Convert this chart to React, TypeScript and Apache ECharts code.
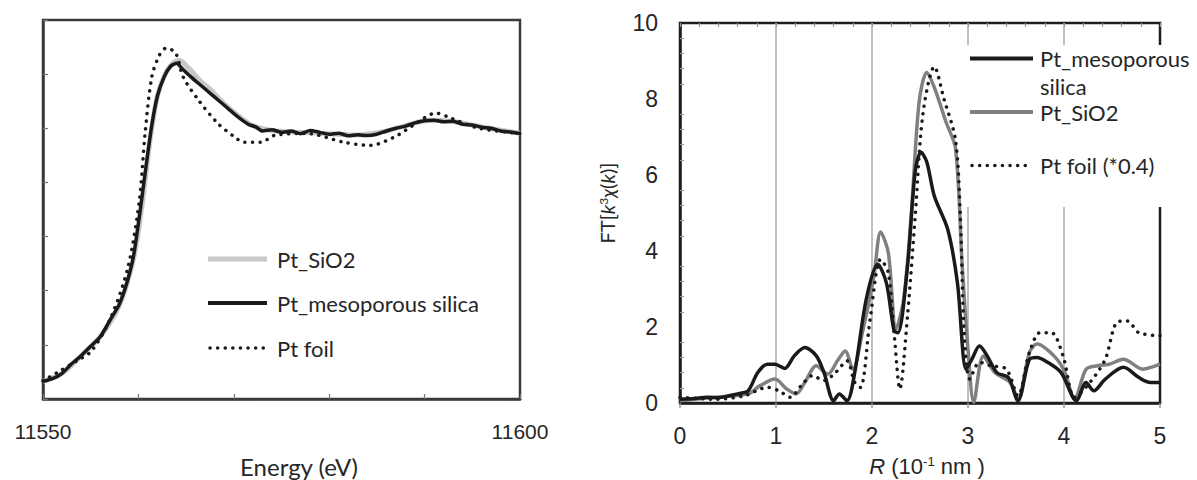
import React, { useEffect, useRef } from "react";
import * as echarts from "echarts";

// ---------- Left panel: XANES (Energy, eV vs normalized absorption) ----------
const xanesLabels = [11550, 11600];

const xanesMeso: [number, number][] = [
  [11550, 0.065], [11551, 0.075], [11552, 0.095], [11553, 0.13], [11554, 0.16],
  [11555, 0.195], [11556, 0.23], [11557, 0.29], [11558, 0.35], [11558.8, 0.43],
  [11559.5, 0.53], [11560.2, 0.7], [11560.8, 0.86], [11561.4, 1.01], [11562.0, 1.12],
  [11562.7, 1.19], [11563.4, 1.23], [11564.0, 1.24], [11564.6, 1.22], [11565.5, 1.19],
  [11566.5, 1.16], [11567.5, 1.13], [11568.5, 1.1], [11569.5, 1.07], [11570.5, 1.04],
  [11571.5, 1.015], [11572.3, 1.005], [11573, 0.99], [11574, 0.995], [11575, 0.985],
  [11576, 0.99], [11577, 0.98], [11578, 0.992], [11579, 0.985], [11580, 0.978],
  [11581, 0.982], [11582, 0.972], [11583, 0.976], [11584, 0.973], [11585, 0.978],
  [11586, 0.99], [11587, 1.0], [11588, 1.008], [11589, 1.02], [11590, 1.028],
  [11591, 1.03], [11592, 1.024], [11593, 1.026], [11594, 1.015], [11595, 1.012],
  [11596, 1.004], [11597, 1.0], [11598, 0.99], [11599, 0.986], [11600, 0.981],
];

const xanesSiO2: [number, number][] = [
  [11550, 0.065], [11552, 0.095], [11554, 0.16], [11556, 0.23], [11558, 0.345],
  [11559.5, 0.52], [11560.4, 0.72], [11561.2, 0.95], [11562.0, 1.12], [11562.8, 1.2],
  [11563.6, 1.24], [11564.3, 1.25], [11565.2, 1.225], [11566.5, 1.175], [11567.5, 1.145],
  [11569, 1.09], [11570.5, 1.045], [11572, 1.01], [11574, 0.992], [11577, 0.985],
  [11580, 0.98], [11583, 0.975], [11586, 0.99], [11588, 1.01], [11590.5, 1.03],
  [11593, 1.025], [11596, 1.005], [11600, 0.982],
];

const xanesFoil: [number, number][] = [
  [11550, 0.067], [11551.8, 0.104], [11553.5, 0.14], [11555.1, 0.178], [11557.1, 0.3],
  [11558.9, 0.485], [11560.1, 0.733], [11560.7, 0.981], [11561.4, 1.189], [11562.2, 1.27],
  [11562.9, 1.296], [11563.9, 1.278], [11564.7, 1.189], [11566.3, 1.104], [11568.3, 1.019],
  [11570, 0.97], [11571.1, 0.948], [11572.8, 0.948], [11574.3, 0.974], [11577.6, 0.981],
  [11581.6, 0.948], [11584.3, 0.937], [11586.8, 0.967], [11588.8, 1.011], [11591.2, 1.056],
  [11592.8, 1.037], [11595.7, 1.0], [11600, 0.981],
];

// ---------- Right panel: Fourier transform (R vs FT magnitude) ----------
const ftMeso: [number, number][] = [
  [0, 0.1], [0.15, 0.12], [0.28, 0.15], [0.4, 0.14], [0.51, 0.19], [0.62, 0.25],
  [0.71, 0.32], [0.81, 0.8], [0.91, 1.02], [0.99, 1.02], [1.09, 0.91], [1.19, 1.24],
  [1.3, 1.46], [1.42, 1.24], [1.5, 0.8], [1.6, 0.06], [1.66, 0.24], [1.74, 0.06],
  [1.82, 0.8], [1.94, 2.73], [2.06, 3.65], [2.15, 3.16], [2.23, 1.9], [2.27, 1.85],
  [2.37, 3.6], [2.45, 6.1], [2.51, 6.6], [2.57, 6.35], [2.65, 5.44], [2.79, 4.56],
  [2.89, 3.16], [2.98, 0.89], [3.04, 1.15], [3.12, 1.5], [3.2, 1.24], [3.3, 0.8],
  [3.42, 0.67], [3.52, 0.06], [3.64, 1.15], [3.72, 1.2], [3.83, 1.07], [3.97, 0.8],
  [4.13, 0.06], [4.23, 0.54], [4.31, 0.32], [4.43, 0.63], [4.62, 0.94], [4.78, 0.67],
  [4.9, 0.54], [5.0, 0.54],
];

const ftSiO2: [number, number][] = [
  [0, 0.06], [0.36, 0.15], [0.71, 0.24], [0.83, 0.45], [0.99, 0.63], [1.11, 0.37],
  [1.21, 0.24], [1.3, 0.54], [1.42, 0.98], [1.54, 0.76], [1.64, 1.11], [1.72, 1.37],
  [1.8, 0.89], [1.9, 1.85], [2.02, 3.34], [2.09, 4.5], [2.17, 3.95], [2.25, 1.94],
  [2.33, 2.73], [2.41, 5.0], [2.49, 7.9], [2.57, 8.7], [2.65, 8.3], [2.77, 7.4],
  [2.87, 6.7], [2.94, 3.6], [3.0, 1.42], [3.06, 0.02], [3.16, 1.24], [3.28, 0.8],
  [3.44, 0.54], [3.52, 0.1], [3.64, 1.33], [3.72, 1.55], [3.91, 1.2], [4.01, 0.8],
  [4.11, 0.1], [4.23, 0.89], [4.35, 0.98], [4.47, 1.02], [4.62, 1.15], [4.82, 0.89],
  [5.0, 1.02],
];

const ftFoil: [number, number][] = [
  [0, 0.15], [0.36, 0.1], [0.67, 0.19], [0.91, 0.41], [1.03, 0.32], [1.15, 0.15],
  [1.26, 0.45], [1.38, 0.72], [1.5, 0.59], [1.62, 0.8], [1.74, 1.11], [1.82, 0.54],
  [1.88, 0.41], [1.98, 2.2], [2.09, 3.78], [2.17, 3.43], [2.23, 1.85], [2.29, 0.37],
  [2.37, 2.29], [2.45, 4.91], [2.53, 7.6], [2.65, 8.85], [2.75, 8.0], [2.87, 6.92],
  [2.92, 4.91], [2.96, 1.85], [3.02, 0.63], [3.12, 1.07], [3.24, 0.98], [3.4, 0.89],
  [3.52, 0.19], [3.64, 1.33], [3.75, 1.85], [3.87, 1.85], [3.99, 1.24], [4.11, 0.15],
  [4.27, 0.54], [4.43, 1.15], [4.55, 2.12], [4.66, 2.16], [4.78, 1.85], [5.0, 1.77],
];

const leftLegend = ["Pt_SiO2", "Pt_mesoporous silica", "Pt foil"];
const rightLegend = ["Pt_mesoporous\nsilica", "Pt_SiO2", "Pt foil (*0.4)"];

const TEXT = "#262626";
const NUM_FONT = "Liberation Sans";
const WORD_FONT = "Lato";
const DOT = [0.1, 7.5];
const GRID_GRAY = "#ababab";

export default function App() {
  const ref = useRef<HTMLDivElement>(null);

  useEffect(() => {
    document.body.style.margin = "0";
    const chart = echarts.init(ref.current!, null, { renderer: "svg" });

    const lineItem = (x1: number, x2: number, y: number, stroke: string, width: number, dotted: boolean) => ({
      type: "line",
      z: 120,
      shape: { x1, y1: y, x2, y2: y },
      style: dotted
        ? { stroke, lineWidth: width, lineDash: DOT, lineCap: "round" }
        : { stroke, lineWidth: width },
    });
    const textItem = (x: number, y: number, text: string, va = "middle") => ({
      type: "text",
      z: 120,
      x,
      y,
      style: {
        text,
        fill: TEXT,
        fontSize: 22,
        fontFamily: WORD_FONT,
        verticalAlign: va,
        lineHeight: 28,
      },
    });

    const option: any = {
      animation: false,
      backgroundColor: "#ffffff",
      grid: [
        { left: 43, top: 20, width: 477, height: 379, show: true, borderColor: "#3a3a3a", borderWidth: 2.5, backgroundColor: "transparent" },
        { left: 680, top: 23, width: 480, height: 380, show: true, borderColor: "#1e1e1e", borderWidth: 2.5, backgroundColor: "transparent" },
      ],
      xAxis: [
        {
          gridIndex: 0, type: "value", min: 11550, max: 11600, interval: 10,
          axisLine: { lineStyle: { color: "#3a3a3a", width: 2.5 } },
          axisTick: { inside: true, length: 5, lineStyle: { color: "#777", width: 1.2 } },
          axisLabel: {
            margin: 22, fontSize: 21, color: TEXT, fontFamily: NUM_FONT,
            formatter: (v: number) => (xanesLabels.includes(v) ? String(v) : ""),
          },
          splitLine: { show: false },
        },
        {
          gridIndex: 1, type: "value", min: 0, max: 5, interval: 1,
          axisLine: { lineStyle: { color: "#1e1e1e", width: 2.5 } },
          axisTick: { inside: false, length: 5, lineStyle: { color: "#999", width: 1.5 } },
          axisLabel: { margin: 21, fontSize: 23, color: TEXT, fontFamily: NUM_FONT },
          splitLine: {
            show: true,
            lineStyle: { color: ["transparent", GRID_GRAY, GRID_GRAY, GRID_GRAY, GRID_GRAY, "transparent"], width: 1.5 },
          },
        },
        {
          gridIndex: 1, type: "value", min: 0, max: 5, interval: 0.2,
          axisLine: { show: false },
          axisTick: { inside: true, length: 4, lineStyle: { color: "#999", width: 1.2 } },
          axisLabel: { show: false },
          splitLine: { show: false },
        },
      ],
      yAxis: [
        {
          gridIndex: 0, type: "value", min: 0, max: 1.4, interval: 0.2,
          axisLine: { lineStyle: { color: "#3a3a3a", width: 2.5 } },
          axisTick: { inside: true, length: 5, lineStyle: { color: "#777", width: 1.2 } },
          axisLabel: { show: false },
          splitLine: { show: false },
        },
        {
          gridIndex: 1, type: "value", min: 0, max: 10, interval: 2,
          axisLine: { lineStyle: { color: "#1e1e1e", width: 2.5 } },
          axisTick: { show: false, inside: true },
          minorTick: { show: true, splitNumber: 5, length: 4, lineStyle: { color: "#999", width: 1.2 } },
          axisLabel: { margin: 22, fontSize: 23, color: TEXT, fontFamily: NUM_FONT },
          splitLine: { show: false },
        },
      ],
      series: [
        {
          name: "Pt_SiO2", type: "line", xAxisIndex: 0, yAxisIndex: 0, data: xanesSiO2,
          showSymbol: false, smooth: 0.3, z: 2,
          lineStyle: { color: "#c8c8c8", width: 5 },
        },
        {
          name: "Pt foil", type: "line", xAxisIndex: 0, yAxisIndex: 0, data: xanesFoil,
          showSymbol: false, smooth: 0.3, z: 3,
          lineStyle: { color: "#1a1a1a", width: 3.5, type: DOT, cap: "round" },
        },
        {
          name: "Pt_mesoporous silica", type: "line", xAxisIndex: 0, yAxisIndex: 0, data: xanesMeso,
          showSymbol: false, smooth: 0.2, z: 4,
          lineStyle: { color: "#1a1a1a", width: 3.5 },
        },
        {
          name: "Pt_mesoporous silica (FT)", type: "line", xAxisIndex: 1, yAxisIndex: 1, data: ftMeso,
          showSymbol: false, smooth: 0.3, z: 4,
          lineStyle: { color: "#1a1a1a", width: 3.5 },
        },
        {
          name: "Pt_SiO2 (FT)", type: "line", xAxisIndex: 1, yAxisIndex: 1, data: ftSiO2,
          showSymbol: false, smooth: 0.3, z: 3,
          lineStyle: { color: "#808080", width: 3.5 },
        },
        {
          name: "Pt foil (*0.4)", type: "line", xAxisIndex: 1, yAxisIndex: 1, data: ftFoil,
          showSymbol: false, smooth: 0.3, z: 5,
          lineStyle: { color: "#1a1a1a", width: 3.5, type: DOT, cap: "round" },
        },
      ],
      graphic: [
        // left legend
        lineItem(208, 267, 259, "#c8c8c8", 5, false),
        lineItem(208, 267, 303, "#1a1a1a", 4, false),
        lineItem(210, 265, 348, "#1a1a1a", 3.5, true),
        textItem(277, 259, leftLegend[0]),
        textItem(277, 303, leftLegend[1]),
        textItem(277, 348, leftLegend[2]),
        // right legend background
        { type: "rect", z: 110, shape: { x: 962, y: 45, width: 235, height: 162 }, style: { fill: "#ffffff" } },
        lineItem(970, 1033, 58.5, "#1a1a1a", 4, false),
        lineItem(970, 1033, 112, "#808080", 4, false),
        lineItem(972, 1031, 165.5, "#1a1a1a", 3.5, true),
        textItem(1040, 44.5, rightLegend[0], "top"),
        textItem(1040, 112, rightLegend[1]),
        textItem(1040, 165.5, rightLegend[2]),
        // axis titles
        {
          type: "text", z: 120, x: 299, y: 466,
          style: { text: "Energy (eV)", fill: TEXT, fontSize: 24, fontFamily: WORD_FONT, align: "center", verticalAlign: "middle" },
        },
        {
          type: "text", z: 120, x: 927, y: 466,
          style: {
            text: "{i|R} (10{sup|-1} nm )",
            fill: TEXT, fontSize: 22, fontFamily: NUM_FONT, align: "center", verticalAlign: "middle",
            rich: {
              i: { fontStyle: "italic", fontSize: 22, fontFamily: NUM_FONT, fill: TEXT },
              sup: { fontSize: 13, fontFamily: NUM_FONT, fill: TEXT, verticalAlign: "top", padding: [0, 0, 10, 0] },
            },
          },
        },
        {
          type: "text", z: 120, x: 607, y: 203, rotation: Math.PI / 2,
          style: {
            text: "FT[{i|k}{sup|3}{i|χ}({i|k})]",
            fill: TEXT, fontSize: 20, fontFamily: WORD_FONT, align: "center", verticalAlign: "middle",
            rich: {
              i: { fontStyle: "italic", fontSize: 20, fontFamily: WORD_FONT, fill: TEXT },
              sup: { fontSize: 12, fontFamily: WORD_FONT, fill: TEXT, verticalAlign: "top", padding: [0, 0, 8, 0] },
            },
          },
        },
      ],
    };

    chart.setOption(option);
    return () => chart.dispose();
  }, []);

  return <div ref={ref} style={{ width: 1197, height: 480 }} />;
}
